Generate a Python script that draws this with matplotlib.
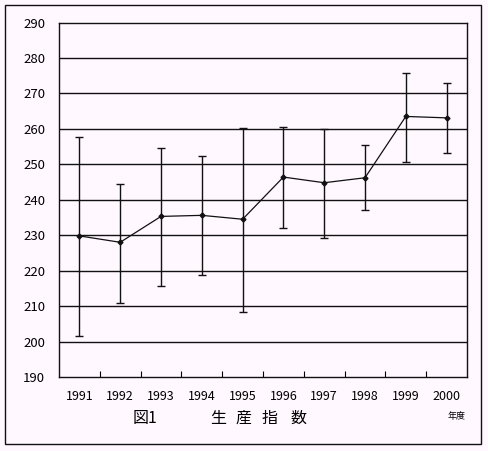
import matplotlib
matplotlib.use("Agg")
import matplotlib.pyplot as plt
from matplotlib.patches import Rectangle

plt.rcParams['font.family'] = ['Noto Sans CJK JP', 'DejaVu Sans']

years = ['1991', '1992', '1993', '1994', '1995', '1996', '1997', '1998', '1999', '2000']
values = [229.8, 228.0, 235.3, 235.6, 234.5, 246.4, 244.8, 246.2, 263.5, 263.1]
upper = [257.8, 244.5, 254.5, 252.3, 260.2, 260.4, 260.0, 255.4, 275.7, 272.9]
lower = [201.6, 211.0, 215.8, 218.9, 208.4, 232.1, 229.2, 237.1, 250.6, 253.1]
yticks = [190, 200, 210, 220, 230, 240, 250, 260, 270, 280, 290]
title_chars = ['生', '産', '指', '数']

bg = '#fff8ff'
fig = plt.figure(figsize=(4.89, 4.51), dpi=100, facecolor=bg)
ax = fig.add_axes([59/489, 1-377/451, (467-59)/489, (377-22.5)/451])
ax.set_facecolor(bg)

x = list(range(len(years)))
yerr = [[v - l for v, l in zip(values, lower)], [u - v for u, v in zip(upper, values)]]
ax.errorbar(x, values, yerr=yerr, fmt='-', color='#111111', lw=0.9,
            ecolor='#111111', elinewidth=1.0, capsize=3, capthick=1.0,
            marker='D', markersize=2.5, zorder=3)

ax.set_xlim(-0.5, len(years) - 0.5)
ax.set_ylim(190, 290)
ax.set_yticks(yticks)
ax.set_yticklabels([str(t) for t in yticks], fontsize=9.5)
for t in yticks[1:-1]:
    ax.axhline(t, color='#111111', lw=1.0, zorder=1)

ax.set_xticks(x)
ax.set_xticklabels(years, fontsize=9)
ax.tick_params(axis='x', which='major', length=0, pad=9)
ax.set_xticks([i + 0.5 for i in x[:-1]], minor=True)
ax.tick_params(axis='x', which='minor', length=4, direction='in', width=0.8)
ax.tick_params(axis='y', length=0, pad=10)
for s in ax.spines.values():
    s.set_color('#111111')
    s.set_linewidth(1.0)

fig.text(145/489, 1-418/451, '図1', fontsize=11.5, ha='center', va='center')
for cx, ch in zip([218, 243, 270, 298], title_chars):
    fig.text(cx/489, 1-418/451, ch, fontsize=11.5, ha='center', va='center')
fig.text(457/489, 1-416/451, '年度', fontsize=6.5, ha='center', va='center')

fig.patches.append(Rectangle((5/489, 1-444/451), 476/489, 439/451, transform=fig.transFigure,
                             fill=False, edgecolor='#111111', lw=1.0))

fig.savefig('out.png', dpi=100, facecolor=bg)
